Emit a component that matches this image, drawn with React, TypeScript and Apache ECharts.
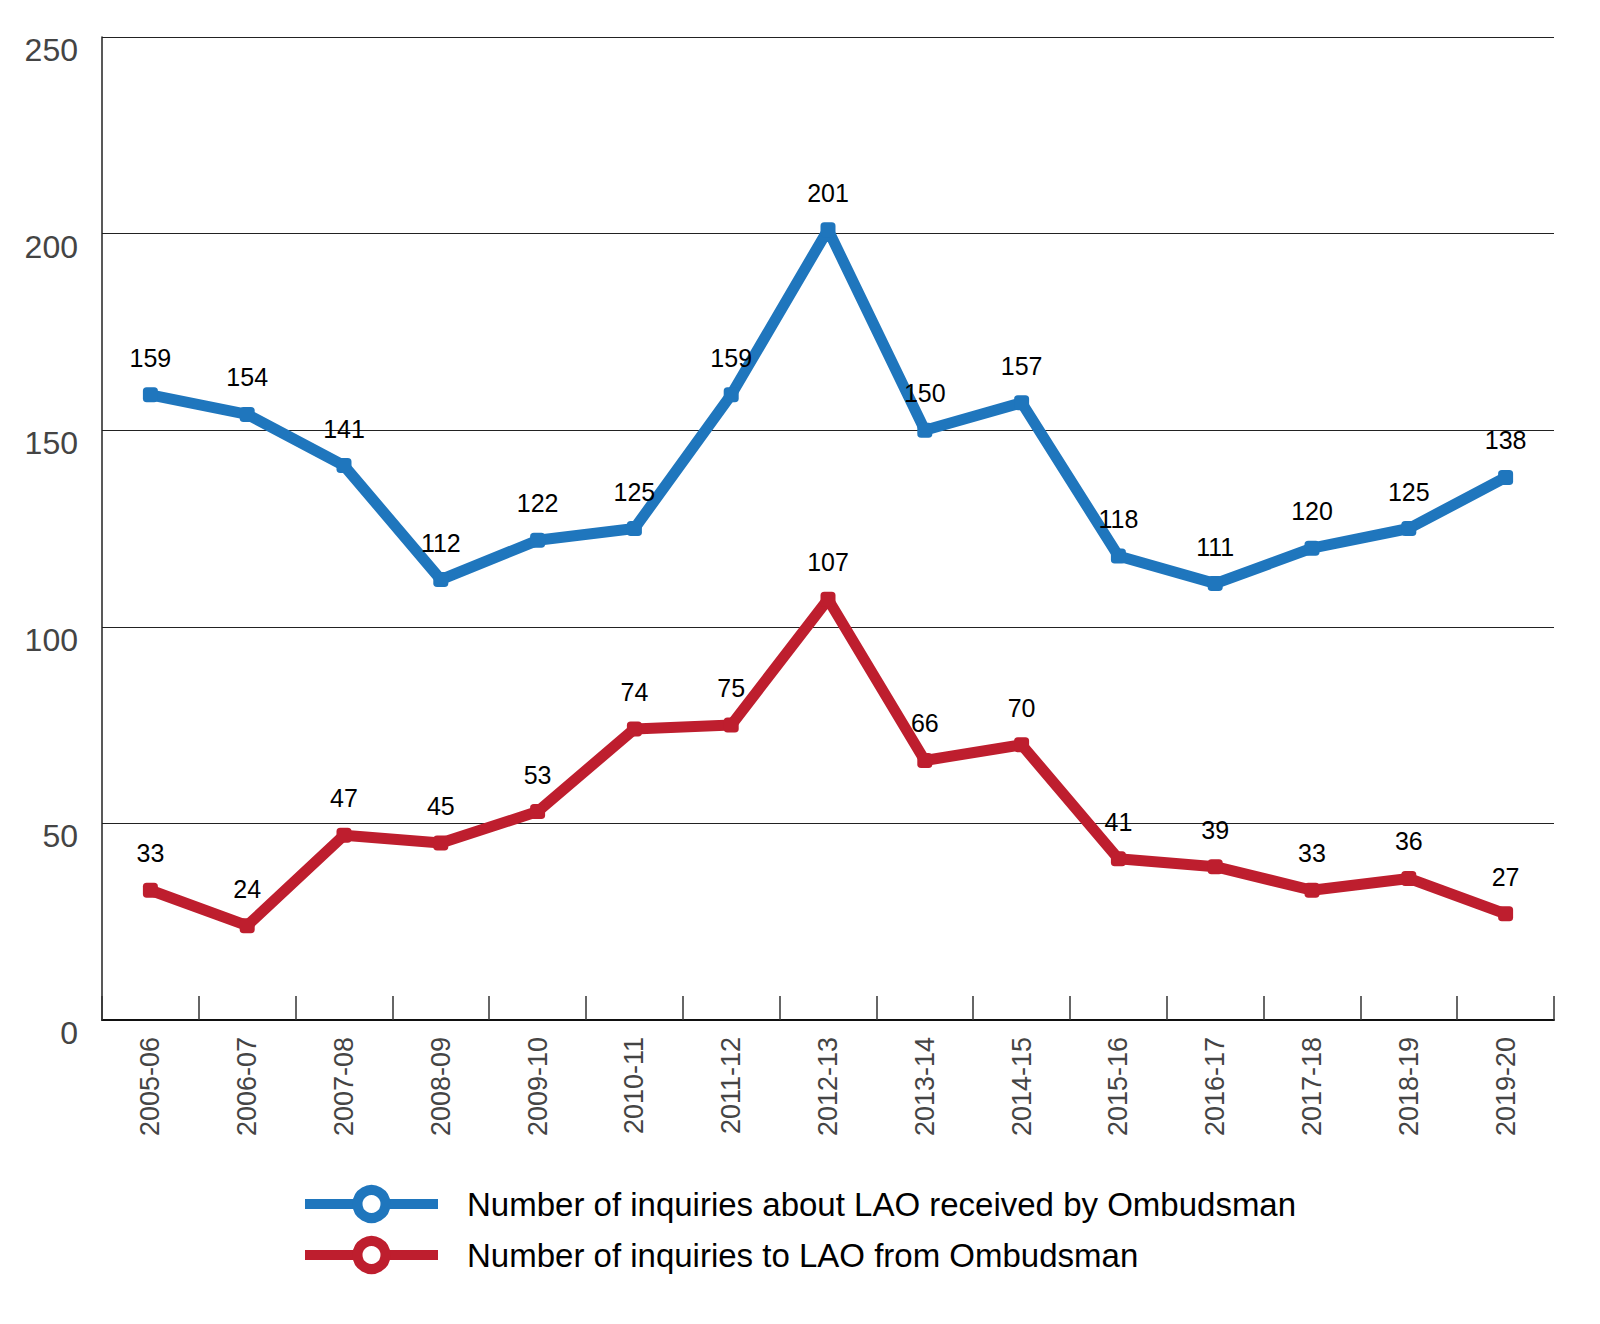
import React, { useEffect, useRef } from 'react';
import * as echarts from 'echarts';

const years = [
  '2005-06', '2006-07', '2007-08', '2008-09', '2009-10', '2010-11', '2011-12', '2012-13',
  '2013-14', '2014-15', '2015-16', '2016-17', '2017-18', '2018-19', '2019-20'
];

// inquiries about LAO received by the Ombudsman
const receivedByOmbudsman = [159, 154, 141, 112, 122, 125, 159, 201, 150, 157, 118, 111, 120, 125, 138];
// inquiries to LAO from the Ombudsman
const toLaoFromOmbudsman = [33, 24, 47, 45, 53, 74, 75, 107, 66, 70, 41, 39, 33, 36, 27];

const seriesNames = [
  'Number of inquiries about LAO received by Ombudsman',
  'Number of inquiries to LAO from Ombudsman'
];

const BLUE = '#1f76bd';
const RED = '#be1e2e';
const FONT = "'Liberation Sans', Arial, sans-serif";

const makeSeries = (name: string, values: number[], color: string) => ({
  name,
  type: 'line',
  // series symbol drives the legend icon, points themselves are small round squares
  symbol: 'circle',
  symbolSize: 15,
  data: values.map(v => ({ value: v, symbol: 'roundRect' })),
  lineStyle: { color, width: 11 },
  itemStyle: { color, borderWidth: 0 },
  label: {
    show: true,
    position: 'top',
    distance: 17,
    color: '#000',
    fontSize: 25,
    fontFamily: FONT
  }
});

export default function App() {
  const chartRef = useRef<HTMLDivElement>(null);

  useEffect(() => {
    if (!chartRef.current) return;
    document.body.style.margin = '0';

    const chart = echarts.init(chartRef.current, null, { renderer: 'svg' });

    const option = {
      animation: false,
      backgroundColor: '#fff',
      textStyle: { fontFamily: FONT },
      grid: { left: 102, right: 46, top: 37, bottom: 304, containLabel: false },
      legend: {
        orient: 'vertical',
        left: 300,
        top: 1185,
        padding: 0,
        itemWidth: 133,
        itemHeight: 35,
        itemGap: 13,
        data: [
          { name: seriesNames[0], itemStyle: { color: '#fff', borderColor: BLUE, borderWidth: 10 } },
          { name: seriesNames[1], itemStyle: { color: '#fff', borderColor: RED, borderWidth: 10 } }
        ],
        lineStyle: { width: 10 },
        textStyle: { fontSize: 33, color: '#000', fontFamily: FONT, padding: [0, 0, 0, 24] }
      },
      xAxis: {
        type: 'category',
        data: years,
        boundaryGap: true,
        axisLine: { lineStyle: { color: '#111', width: 2 } },
        axisTick: {
          show: true,
          inside: true,
          length: 24,
          interval: 0,
          lineStyle: { color: '#333', width: 1.5 }
        },
        axisLabel: {
          interval: 0,
          rotate: 90,
          margin: 17,
          fontSize: 27,
          color: '#444',
          fontFamily: FONT
        },
        splitLine: { show: false }
      },
      yAxis: {
        type: 'value',
        min: 0,
        max: 250,
        interval: 50,
        axisLine: { show: true, lineStyle: { color: '#222', width: 1.5 } },
        axisTick: { show: false },
        axisLabel: {
          margin: 24,
          fontSize: 32,
          color: '#444',
          fontFamily: FONT,
          verticalAlign: 'top',
          padding: [-3, 0, 0, 0]
        },
        splitLine: { show: true, lineStyle: { color: '#222', width: 1 } }
      },
      series: [
        makeSeries(seriesNames[0], receivedByOmbudsman, BLUE),
        makeSeries(seriesNames[1], toLaoFromOmbudsman, RED)
      ]
    };

    chart.setOption(option);

    const handleResize = () => chart.resize();
    window.addEventListener('resize', handleResize);

    return () => {
      window.removeEventListener('resize', handleResize);
      chart.dispose();
    };
  }, []);

  return <div ref={chartRef} style={{ width: 1600, height: 1324 }} />;
}
